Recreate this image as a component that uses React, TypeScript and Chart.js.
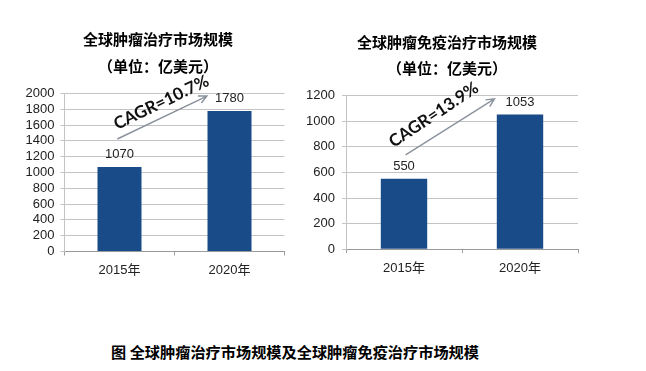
import React, { useEffect, useRef } from "react";
import { Chart, registerables } from "chart.js";

Chart.register(...registerables);

// ---- data ----
const categories = ["2015年", "2020年"];
const oncologyMarket = [1070, 1780];
const immunoMarket = [550, 1053];
const oncologyAxisMax = 2000;
const immunoAxisMax = 1200;
const axisStep = 200;
const oncologyTitle = "全球肿瘤治疗市场规模";
const immunoTitle = "全球肿瘤免疫治疗市场规模";
const unitLabel = "（单位：亿美元）";
const oncologyCagr = "CAGR=10.7%";
const immunoCagr = "CAGR=13.9%";
const caption = "图 全球肿瘤治疗市场规模及全球肿瘤免疫治疗市场规模";

const CJK = "'Noto Sans CJK SC', sans-serif";
const LATIN = "'Liberation Sans', 'Noto Sans CJK SC', sans-serif";
const BAR_COLOR = "#1a4b89";

type AnnoOpts = {
  text: string;
  angle: number; // degrees
  textAt: [number, number]; // [category fraction, value]
  from: [number, number];
  to: [number, number];
};

const annotationPlugin = {
  id: "cagrAnno",
  afterDatasetsDraw(chart: any, _args: any, opts: AnnoOpts) {
    const { ctx } = chart;
    const x = chart.scales.x;
    const y = chart.scales.y;
    const c0 = x.getPixelForValue(0);
    const c1 = x.getPixelForValue(1);
    const px = (f: number) => c0 + f * (c1 - c0);

    // value labels above bars
    ctx.save();
    ctx.font = `13px ${LATIN}`;
    ctx.fillStyle = "#222";
    ctx.textAlign = "center";
    ctx.textBaseline = "middle";
    const meta = chart.getDatasetMeta(0);
    meta.data.forEach((bar: any, i: number) => {
      const v = chart.data.datasets[0].data[i];
      ctx.fillText(String(v), bar.x, bar.y - 12.5);
    });
    ctx.restore();

    if (!opts || !opts.text) return;
    // arrow
    const x1 = px(opts.from[0]);
    const y1 = y.getPixelForValue(opts.from[1]);
    const x2 = px(opts.to[0]);
    const y2 = y.getPixelForValue(opts.to[1]);
    ctx.save();
    ctx.strokeStyle = "#8a929c";
    ctx.lineWidth = 1.4;
    ctx.beginPath();
    ctx.moveTo(x1, y1);
    ctx.lineTo(x2, y2);
    const a = Math.atan2(y2 - y1, x2 - x1);
    const hl = 9;
    ctx.moveTo(x2 - hl * Math.cos(a - 0.45), y2 - hl * Math.sin(a - 0.45));
    ctx.lineTo(x2, y2);
    ctx.lineTo(x2 - hl * Math.cos(a + 0.45), y2 - hl * Math.sin(a + 0.45));
    ctx.stroke();
    ctx.restore();

    // rotated text
    const tx = px(opts.textAt[0]);
    const ty = y.getPixelForValue(opts.textAt[1]);
    ctx.save();
    ctx.translate(tx, ty);
    ctx.rotate((-opts.angle * Math.PI) / 180);
    ctx.font = `bold 17px Lato, 'Liberation Sans', sans-serif`;
    ctx.fillStyle = "#111";
    ctx.textAlign = "center";
    ctx.textBaseline = "middle";
    ctx.fillText(opts.text, 0, 0);
    ctx.restore();
  },
};

type PanelProps = {
  title: string;
  values: number[];
  max: number;
  left: number;
  width: number;
  padLeft: number;
  padRight: number;
  padBottom: number;
  yWidth: number;
  y2Width: number;
  yTickPad: number;
  titlePadTop: number;
  subPadTop: number;
  subPadBottom: number;
  anno: AnnoOpts;
};

function Panel(p: PanelProps) {
  const ref = useRef<HTMLCanvasElement>(null);
  useEffect(() => {
    if (!ref.current) return;
    const titleFont = { family: CJK, size: 15, weight: "bold" as const, lineHeight: 1.2 };
    const chart = new Chart(ref.current, {
      type: "bar",
      data: {
        labels: categories,
        datasets: [
          {
            data: p.values,
            backgroundColor: BAR_COLOR,
            borderWidth: 0,
            barPercentage: 0.4,
            categoryPercentage: 1,
            yAxisID: "y",
          },
        ],
      },
      options: {
        responsive: false,
        maintainAspectRatio: false,
        animation: false,
        events: [],
        layout: {
          padding: { left: p.padLeft, right: p.padRight, top: 0, bottom: p.padBottom },
        },
        plugins: {
          legend: { display: false },
          tooltip: { enabled: false },
          title: {
            display: true,
            text: p.title,
            color: "#000",
            font: titleFont,
            padding: { top: p.titlePadTop, bottom: 0 },
          },
          subtitle: {
            display: true,
            text: unitLabel,
            color: "#000",
            font: titleFont,
            padding: { top: p.subPadTop, bottom: p.subPadBottom },
          },
          cagrAnno: p.anno,
        } as any,
        scales: {
          x: {
            grid: {
              display: true,
              drawOnChartArea: false,
              drawTicks: true,
              tickLength: 4,
              color: "#a0a0a0",
            },
            border: { display: true, color: "#9a9a9a", width: 1 },
            ticks: {
              color: "#222",
              font: { family: LATIN, size: 13 },
              padding: 7,
            },
            afterFit: (s: any) => {
              s.height = 30;
            },
          },
          y: {
            position: "left",
            min: 0,
            max: p.max,
            grid: {
              color: "#c4c4c4",
              lineWidth: 1,
              drawTicks: true,
              tickLength: 4,
            },
            border: { display: true, color: "#c4c4c4", width: 1 },
            ticks: {
              stepSize: axisStep,
              autoSkip: false,
              color: "#222",
              font: { family: LATIN, size: 13 },
              padding: p.yTickPad,
              callback: (v: any) => String(v),
            },
            afterFit: (s: any) => {
              s.width = p.yWidth;
            },
          },
          // invisible spacer on the right so the titles centre like the original
          spacer: {
            type: "linear",
            position: "right",
            display: true,
            grid: { display: false, drawTicks: false },
            border: { display: false },
            ticks: { display: false },
            afterFit: (s: any) => {
              s.width = p.y2Width;
            },
          },
        } as any,
      },
      plugins: [annotationPlugin],
    });
    return () => chart.destroy();
  }, []);
  return (
    <div style={{ position: "absolute", left: p.left, top: 0, width: p.width, height: 300 }}>
      <canvas ref={ref} width={p.width} height={300} style={{ display: "block" }} />
    </div>
  );
}

export default function App() {
  return (
    <div
      style={{
        position: "absolute",
        left: 0,
        top: 0,
        width: 646,
        height: 371,
        background: "#fff",
        overflow: "hidden",
      }}
    >
      <Panel
        title={oncologyTitle}
        values={oncologyMarket}
        max={oncologyAxisMax}
        left={0}
        width={330}
        padLeft={20}
        padRight={34}
        padBottom={18.5}
        yWidth={44.5}
        y2Width={11.5}
        yTickPad={6}
        titlePadTop={30}
        subPadTop={9.7}
        subPadBottom={17.8}
        anno={{
          text: oncologyCagr,
          angle: 25.8,
          textAt: [0.38, 1886],
          from: [-0.02, 1424],
          to: [0.795, 1968],
        }}
      />
      <Panel
        title={immunoTitle}
        values={immunoMarket}
        max={immunoAxisMax}
        left={300}
        width={340}
        padLeft={0}
        padRight={46}
        padBottom={20.8}
        yWidth={46}
        y2Width={16}
        yTickPad={7}
        titlePadTop={33.3}
        subPadTop={8}
        subPadBottom={18.4}
        anno={{
          text: immunoCagr,
          angle: 33.6,
          textAt: [0.256, 1050],
          from: [0.014, 737],
          to: [0.78, 1175],
        }}
      />
      <div
        style={{
          position: "absolute",
          left: 111,
          top: 341,
          height: 20,
          lineHeight: "20px",
          fontFamily: CJK,
          fontWeight: "bold",
          fontSize: 15.2,
          color: "#000",
          whiteSpace: "nowrap",
        }}
      >
        {caption}
      </div>
    </div>
  );
}
